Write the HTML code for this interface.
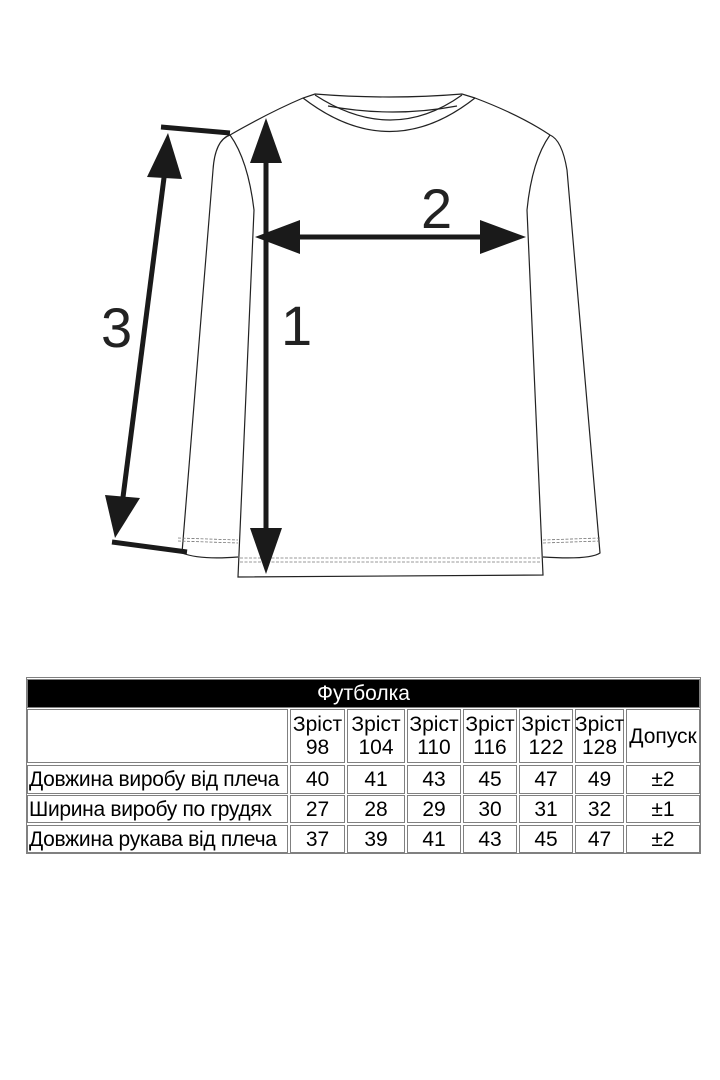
<!DOCTYPE html>
<html><head><meta charset="utf-8"><style>
body{margin:0;width:720px;height:1080px;background:#fff;position:relative;overflow:hidden;font-family:"Liberation Sans",Arial,sans-serif}
.c{position:absolute;border:1px solid #808080;box-sizing:border-box;display:flex;align-items:center;justify-content:center;text-align:center;font-size:21px;line-height:23px;color:#000;white-space:nowrap}
.l{justify-content:flex-start;padding-left:1px;letter-spacing:-0.3px}
</style></head><body>
<svg width="720" height="660" style="position:absolute;left:0;top:0">
<g fill="none" stroke="#222" stroke-width="1.2">
<path d="M230,135 Q270,112 303,98 L315,94 Q390,100 462,94 L475,98 Q520,115 550,135"/>
<path d="M303,98 Q390,165 475,98"/>
<path d="M315,95 Q392,145 462,95"/>
<path d="M328,106 Q393,118 457,106"/>
<path d="M230,135 Q248,160 254,210 L238,577 L543,575 L527,210 Q532,160 550,135"/>
<path d="M230,135 Q215,140 213,170 L182,553 Q200,560 238,557"/>
<path d="M550,135 Q562,140 567,170 L600,553 Q590,560 543,557"/>
</g>
<g fill="none" stroke="#777" stroke-width="0.8" stroke-dasharray="3,1.5">
<path d="M178,538 L238,540 M178,541 L238,543 M543,540 L600,538 M543,543 L600,541"/>
<path d="M240,558 L541,558 M240,562 L541,562"/>
</g>
<g stroke="#1a1a1a" stroke-width="5" fill="#1a1a1a">
<line x1="266" y1="155" x2="266" y2="540"/>
<polygon points="266,118 250,163 282,163" stroke="none"/>
<polygon points="266,574 250,528 282,528" stroke="none"/>
<line x1="290" y1="237" x2="490" y2="237"/>
<polygon points="255,237 300,220 300,254" stroke="none"/>
<polygon points="526,237 480,220 480,254" stroke="none"/>
<line x1="165" y1="170" x2="122" y2="505"/>
<polygon points="168,133 147,177 182,179" stroke="none"/>
<polygon points="115,538 105,495 140,498" stroke="none"/>
<line x1="161" y1="127" x2="230" y2="133"/>
<line x1="112" y1="542" x2="187" y2="552"/>
</g>
<g font-family="Liberation Sans,Arial,sans-serif" font-size="56" fill="#222">
<text x="101" y="347">3</text>
<text x="281" y="345">1</text>
<text x="421" y="228">2</text>
</g>
</svg>
<div style="position:absolute;left:26px;top:677px;width:675px;height:177px;border:1px solid #808080;box-sizing:border-box"></div>
<div class="c" style="left:27px;top:679px;width:673px;height:29px;background:#000;color:#fff">Футболка</div>
<div class="c" style="left:27px;top:709px;width:261px;height:54px"></div>
<div class="c" style="left:290px;top:709px;width:55px;height:54px">Зріст<br>98</div>
<div class="c" style="left:347px;top:709px;width:58px;height:54px">Зріст<br>104</div>
<div class="c" style="left:407px;top:709px;width:54px;height:54px">Зріст<br>110</div>
<div class="c" style="left:463px;top:709px;width:54px;height:54px">Зріст<br>116</div>
<div class="c" style="left:519px;top:709px;width:54px;height:54px">Зріст<br>122</div>
<div class="c" style="left:575px;top:709px;width:49px;height:54px">Зріст<br>128</div>
<div class="c" style="left:626px;top:709px;width:74px;height:54px">Допуск</div>

<div class="c l" style="left:27px;top:765px;width:261px;height:29px">Довжина виробу від плеча</div>
<div class="c" style="left:290px;top:765px;width:55px;height:29px">40</div>
<div class="c" style="left:347px;top:765px;width:58px;height:29px">41</div>
<div class="c" style="left:407px;top:765px;width:54px;height:29px">43</div>
<div class="c" style="left:463px;top:765px;width:54px;height:29px">45</div>
<div class="c" style="left:519px;top:765px;width:54px;height:29px">47</div>
<div class="c" style="left:575px;top:765px;width:49px;height:29px">49</div>
<div class="c" style="left:626px;top:765px;width:74px;height:29px">±2</div>

<div class="c l" style="left:27px;top:795px;width:261px;height:28px">Ширина виробу по грудях</div>
<div class="c" style="left:290px;top:795px;width:55px;height:28px">27</div>
<div class="c" style="left:347px;top:795px;width:58px;height:28px">28</div>
<div class="c" style="left:407px;top:795px;width:54px;height:28px">29</div>
<div class="c" style="left:463px;top:795px;width:54px;height:28px">30</div>
<div class="c" style="left:519px;top:795px;width:54px;height:28px">31</div>
<div class="c" style="left:575px;top:795px;width:49px;height:28px">32</div>
<div class="c" style="left:626px;top:795px;width:74px;height:28px">±1</div>

<div class="c l" style="left:27px;top:825px;width:261px;height:28px">Довжина рукава від плеча</div>
<div class="c" style="left:290px;top:825px;width:55px;height:28px">37</div>
<div class="c" style="left:347px;top:825px;width:58px;height:28px">39</div>
<div class="c" style="left:407px;top:825px;width:54px;height:28px">41</div>
<div class="c" style="left:463px;top:825px;width:54px;height:28px">43</div>
<div class="c" style="left:519px;top:825px;width:54px;height:28px">45</div>
<div class="c" style="left:575px;top:825px;width:49px;height:28px">47</div>
<div class="c" style="left:626px;top:825px;width:74px;height:28px">±2</div>
</body></html>
